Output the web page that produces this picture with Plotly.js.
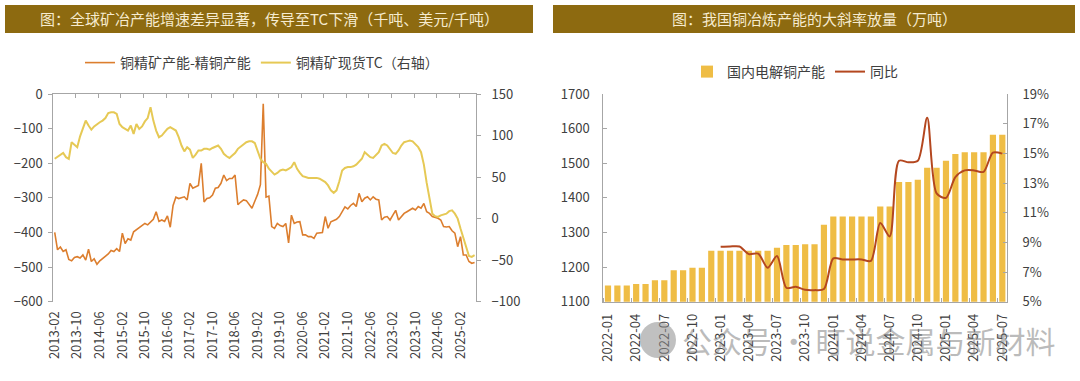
<!DOCTYPE html>
<html>
<head>
<meta charset="utf-8">
<script src="https://cdn.plot.ly/plotly-3.0.1.min.js"></script>
<style>html,body{margin:0;padding:0;background:#fff;}#chart{width:1080px;height:381px;}</style>
</head>
<body>
<div id="chart"></div>
<script>
// ---------- Left chart data (monthly, 2013-02 .. 2025-07) ----------
const leftStart = [2013, 2];
const leftCount = 150;
const gapSeries = [
-400,-450,-442,-455,-450,-478,-482,-472,-470,-474,
-465,-480,-448,-484,-476,-492,-482,-476,-468,-462,
-452,-455,-447,-455,-402,-432,-418,-422,-398,-392,
-386,-382,-374,-378,-370,-362,-340,-368,-364,-368,
-352,-385,-322,-298,-302,-300,-297,-306,-258,-272,
-268,-264,-200,-312,-302,-300,-292,-272,-270,-258,
-234,-250,-244,-244,-234,-320,-312,-306,-308,-318,
-330,-310,-290,-262,-28,-298,-295,-383,-388,-374,
-380,-383,-374,-430,-350,-374,-370,-369,-407,-407,
-412,-412,-417,-402,-402,-400,-354,-388,-369,-366,
-362,-354,-340,-326,-332,-322,-316,-325,-287,-311,
-301,-297,-306,-297,-304,-306,-364,-356,-354,-364,
-350,-336,-364,-354,-345,-340,-335,-330,-335,-325,
-330,-316,-340,-345,-354,-356,-359,-364,-383,-384,
-383,-395,-402,-441,-412,-465,-465,-484,-489,-487
];
const tcSeries = [
72,74,76,79,74,72,92,89,86,99,
110,118,112,107,111,114,116,118,121,127,
128,128,126,114,110,108,106,112,102,114,
108,111,117,121,134,118,106,98,100,104,
108,110,108,106,98,88,81,86,83,73,
77,82,82,84,84,83,85,87,88,84,
78,75,73,76,79,84,87,90,92,93,
93,91,80,72,68,66,60,56,53,55,
58,59,58,60,62,68,60,55,51,50,
49,49,49,49,48,46,44,40,34,31,
34,45,58,61,62,62,63,65,68,72,
80,77,74,73,76,80,88,90,88,84,
79,78,82,88,92,93,94,93,90,86,
80,65,43,22,6,3,2,4,5,6,
9,10,6,0,-12,-24,-36,-45,-46,-44
];
const leftNames = ['铜精矿产能-精铜产能', '铜精矿现货TC（右轴）'];

// ---------- Right chart data (monthly, 2022-01 .. 2025-07) ----------
const rightMonths = [
'2022-01','2022-02','2022-03','2022-04','2022-05','2022-06','2022-07','2022-08','2022-09','2022-10','2022-11','2022-12',
'2023-01','2023-02','2023-03','2023-04','2023-05','2023-06','2023-07','2023-08','2023-09','2023-10','2023-11','2023-12',
'2024-01','2024-02','2024-03','2024-04','2024-05','2024-06','2024-07','2024-08','2024-09','2024-10','2024-11','2024-12',
'2025-01','2025-02','2025-03','2025-04','2025-05','2025-06','2025-07'
];
const capacity = [
1147,1147,1147,1151,1151,1162,1162,1191,1191,1198,1198,1247,
1247,1247,1247,1247,1247,1247,1256,1264,1264,1266,1266,1322,
1346,1346,1346,1346,1346,1375,1375,1446,1446,1452,1487,1487,
1507,1527,1532,1532,1532,1582,1582
];
const yoy = [
null,null,null,null,null,null,null,null,null,null,null,null,
8.70,8.72,8.72,8.21,8.24,7.29,8.08,5.94,6.00,5.80,5.78,5.85,
7.92,7.85,7.85,7.85,7.75,10.3,9.40,14.5,14.4,14.5,17.4,12.3,
12.0,13.4,13.85,13.85,13.75,15.05,14.98
];
const rightNames = ['国内电解铜产能', '同比'];

const leftTitle = '图：全球矿冶产能增速差异显著，传导至TC下滑（千吨、美元/千吨）';
const rightTitle = '图：我国铜冶炼产能的大斜率放量（万吨）';
const watermark = '公众号 · 盯说金属与新材料';

// ---------- build ----------
const leftMonths = [];
for (let i = 0; i < leftCount; i++) {
  const m0 = leftStart[1] - 1 + i;
  const y = leftStart[0] + Math.floor(m0 / 12);
  const m = (m0 % 12) + 1;
  leftMonths.push(y + '-' + (m < 10 ? '0' + m : '' + m));
}
const leftIdx = leftMonths.map((_, i) => i);
const rightIdx = rightMonths.map((_, i) => i);

const leftTickVals = [], leftTickText = [], leftBound = [];
for (let i = 0; i < leftCount; i += 8) { leftTickVals.push(i); leftTickText.push(leftMonths[i]); leftBound.push(i - 0.5); }
const rightTickVals = [], rightTickText = [], rightBound = [];
for (let i = 0; i < rightMonths.length; i += 3) { rightTickVals.push(i); rightTickText.push(rightMonths[i]); rightBound.push(i - 0.5); }

const W = 1080, H = 381;
const px = v => v / W;
const py = v => 1 - v / H;
const FONT = '"Noto Sans CJK SC", "Noto Sans", sans-serif';
const AX = '#a6a6a6';
const TXT = '#404040';

const traces = [
  {type:'scatter', mode:'lines', name:leftNames[0], x:leftIdx, y:gapSeries, xaxis:'x', yaxis:'y',
   line:{color:'#DC7E2E', width:1.6}, legend:'legend'},
  {type:'scatter', mode:'lines', name:leftNames[1], x:leftIdx, y:tcSeries, xaxis:'x', yaxis:'y2',
   line:{color:'#E6C955', width:2}, legend:'legend'},
  {type:'scatter', mode:'lines', x:[], y:[], xaxis:'x3', yaxis:'y', showlegend:false, hoverinfo:'skip'},
  {type:'bar', name:rightNames[0], x:rightIdx, y:capacity, xaxis:'x2', yaxis:'y3',
   marker:{color:'#EFBD45'}, width:0.66, legend:'legend2'},
  {type:'scatter', mode:'lines', name:rightNames[1], x:rightIdx, y:yoy, xaxis:'x2', yaxis:'y4',
   line:{color:'#B4471F', width:2, shape:'spline', smoothing:0.8}, connectgaps:false, legend:'legend2'}
];

const yDom = [py(301.7), py(94)];
const commonTick = {family:FONT, size:13, color:TXT};
const xTick = {family:FONT, size:13, color:TXT};

const layout = {
  width:W, height:H,
  margin:{l:0, r:0, t:0, b:0},
  paper_bgcolor:'#ffffff', plot_bgcolor:'rgba(0,0,0,0)',
  font:{family:FONT, color:TXT},
  showlegend:true,
  bargap:0.3,
  xaxis:{domain:[px(53.3), px(476)], anchor:'y', range:[-0.5, leftCount - 0.5],
    tickmode:'array', tickvals:leftTickVals, ticktext:leftTickText, tickangle:-90,
    tickfont:xTick, ticklabelstandoff:6, showline:false, ticks:'', zeroline:false, showgrid:false},
  xaxis3:{overlaying:'x', anchor:'y', side:'top', range:[-0.5, leftCount - 0.5],
    tickmode:'array', tickvals:leftBound, showticklabels:false, ticks:'inside', ticklen:4, tickcolor:AX,
    showline:true, linecolor:AX, linewidth:1, zeroline:false, showgrid:false},
  yaxis:{domain:yDom, anchor:'x', range:[-600, 0], dtick:100, tick0:0,
    showline:true, linecolor:AX, ticks:'outside', ticklen:4, tickcolor:AX, ticklabelstandoff:3,
    tickfont:commonTick, zeroline:false, showgrid:false},
  yaxis2:{overlaying:'y', anchor:'x', side:'right', range:[-100, 150], dtick:50, tick0:0,
    showline:true, linecolor:AX, ticks:'outside', ticklen:4, tickcolor:AX, ticklabelstandoff:8,
    tickfont:commonTick, zeroline:false, showgrid:false},
  xaxis2:{domain:[px(603.3), px(1007)], anchor:'y3', range:[-0.5, rightMonths.length - 0.5],
    tickmode:'array', tickvals:rightTickVals, ticktext:rightTickText, tickangle:-90,
    tickfont:xTick, ticklabelstandoff:6, showline:true, linecolor:AX, ticks:'',
    minor:{tickmode:'array', tickvals:rightBound, ticks:'inside', ticklen:4, tickcolor:AX},
    zeroline:false, showgrid:false},
  yaxis3:{domain:yDom, anchor:'x2', range:[1100, 1700], dtick:100,
    showline:true, linecolor:AX, ticks:'inside', ticklen:4, tickcolor:AX, ticklabelstandoff:10,
    tickfont:commonTick, zeroline:false, showgrid:false},
  yaxis4:{overlaying:'y3', anchor:'x2', side:'right', range:[5, 19], dtick:2, tick0:5, ticksuffix:'%',
    showline:true, linecolor:AX, ticks:'inside', ticklen:4, tickcolor:AX, ticklabelstandoff:12,
    tickfont:commonTick, zeroline:false, showgrid:false},
  legend:{orientation:'h', x:px(262), xanchor:'center', y:py(63), yanchor:'middle',
    font:{family:FONT, size:14, color:TXT}, bgcolor:'rgba(0,0,0,0)', itemwidth:30},
  legend2:{orientation:'h', x:px(795), xanchor:'center', y:py(72), yanchor:'middle',
    font:{family:FONT, size:14, color:TXT}, bgcolor:'rgba(0,0,0,0)', itemwidth:30},
  shapes:[
    {type:'rect', xref:'paper', yref:'paper', x0:px(5), x1:px(533), y0:py(33), y1:py(5), fillcolor:'#8D6A10', line:{width:0}, layer:'below'},
    {type:'rect', xref:'paper', yref:'paper', x0:px(553), x1:px(1075), y0:py(33), y1:py(5), fillcolor:'#8D6A10', line:{width:0}, layer:'below'},
    {type:'circle', xref:'paper', yref:'paper', x0:px(640), x1:px(676), y0:py(358), y1:py(322), fillcolor:'rgba(140,140,140,0.55)', line:{width:0}, layer:'above'}
  ],
  annotations:[
    {text:leftTitle, xref:'paper', yref:'paper', x:px(269), y:py(19), xanchor:'center', yanchor:'middle', showarrow:false,
     font:{family:FONT, size:15, color:'#F6EBCF'}},
    {text:rightTitle, xref:'paper', yref:'paper', x:px(814), y:py(19), xanchor:'center', yanchor:'middle', showarrow:false,
     font:{family:FONT, size:15, color:'#F6EBCF'}},
    {text:watermark, xref:'paper', yref:'paper', x:px(868), y:py(340), xanchor:'center', yanchor:'middle', showarrow:false,
     font:{family:FONT, size:30, color:'rgba(120,120,120,0.5)'}}
  ]
};

Plotly.newPlot('chart', traces, layout, {displayModeBar:false, staticPlot:true});
</script>
</body>
</html>
